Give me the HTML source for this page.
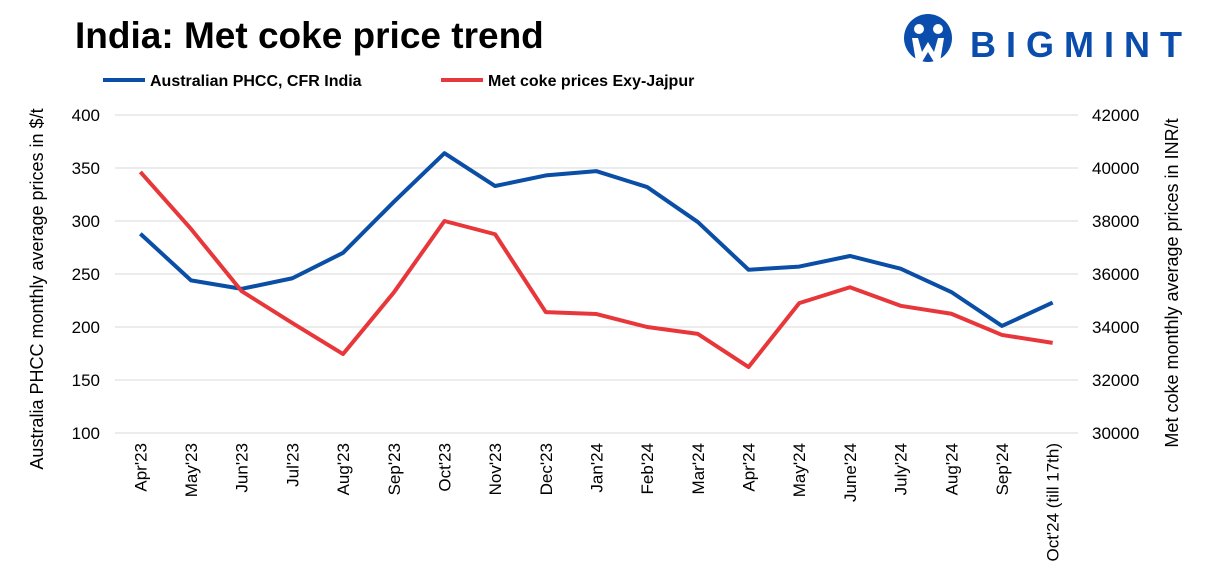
<!DOCTYPE html>
<html><head><meta charset="utf-8"><style>
body{margin:0;background:#fff;width:1208px;height:577px;overflow:hidden;font-family:"Liberation Sans",sans-serif}
</style></head><body>
<svg id="c" width="1208" height="577" xmlns="http://www.w3.org/2000/svg">
<text x="75" y="48" font-size="37" font-weight="bold" fill="#000">India: Met coke price trend</text>
<g>
<circle cx="928" cy="38" r="24" fill="#0a4dad"/>
<circle cx="919" cy="29" r="5" fill="#fff"/><circle cx="938" cy="29" r="5" fill="#fff"/>
<path d="M912 38 L918 38 L922 52 L928 42 L934 52 L938 38 L944 38 L940 62 L934 62 L928 52 L922 62 L916 62 Z" fill="#fff"/>
<text x="970" y="57" font-size="36" font-weight="bold" fill="#0a4dad" letter-spacing="10">BIGMINT</text>
</g>
<g>
<line x1="103" y1="80" x2="145" y2="80" stroke="#0a4ea5" stroke-width="4"/>
<text x="150" y="86" font-size="16" font-weight="bold">Australian PHCC, CFR India</text>
<line x1="441" y1="80" x2="483" y2="80" stroke="#e8373a" stroke-width="4"/>
<text x="488" y="86" font-size="16" font-weight="bold">Met coke prices Exy-Jajpur</text>
</g>
<text transform="translate(43,289) rotate(-90)" text-anchor="middle" font-size="18">Australia PHCC monthly average prices in $/t</text>
<text transform="translate(1178,283) rotate(-90)" text-anchor="middle" font-size="18">Met coke monthly average prices in INR/t</text>
<g id="grid"></g><g id="marks"></g>
</svg>
<script>
const categories=["Apr'23","May'23","Jun'23","Jul'23","Aug'23","Sep'23","Oct'23","Nov'23","Dec'23","Jan'24","Feb'24","Mar'24","Apr'24","May'24","June'24","July'24","Aug'24","Sep'24","Oct'24 (till 17th)"];
const phcc=[288,244,236,246,270,318,364,333,343,347,332,299,254,257,267,255,233,201,223];
const metcoke=[39850,37700,35350,34150,32980,35300,38000,37500,34560,34490,34000,33740,32490,34900,35500,34800,34500,33700,33400];
const leftTicks=[100,150,200,250,300,350,400];
const rightTicks=[30000,32000,34000,36000,38000,40000,42000];
const NS="http://www.w3.org/2000/svg";
const plotTop=115,plotBot=433,x0=115,x1=1078;
const yL=v=>plotBot-(v-100)/300*(plotBot-plotTop);
const yR=v=>plotBot-(v-30000)/12000*(plotBot-plotTop);
const step=(x1-x0)/categories.length;
const xs=i=>x0+step*(i+0.5);
const g=document.getElementById('grid'),m=document.getElementById('marks');
function el(t,a,p){const e=document.createElementNS(NS,t);for(const k in a)e.setAttribute(k,a[k]);p.appendChild(e);return e;}
leftTicks.forEach(v=>{
 const l=el('line',{x1:x0,x2:x1,y1:yL(v),y2:yL(v),stroke:'#d9d9d9','stroke-width':1},g);
 
 
 const t=el('text',{x:100,y:yL(v)+6,'text-anchor':'end','font-size':17},g);t.textContent=v;
 
 
});
rightTicks.forEach(v=>{
 const t=el('text',{x:1092,y:yR(v)+6,'font-size':17},g);t.textContent=v;
 
 
});
categories.forEach((c,i)=>{
 const t=el('text',{transform:`translate(${xs(i)+6},443) rotate(-90)`,'text-anchor':'end','font-size':17},g);t.textContent=c;
 
 
});
const p1=el('polyline',{points:phcc.map((v,i)=>xs(i)+','+yL(v)).join(' '),fill:'none',stroke:'#0a4ea5','stroke-width':4,'stroke-linejoin':'round'},m);


const p2=el('polyline',{points:metcoke.map((v,i)=>xs(i)+','+yR(v)).join(' '),fill:'none',stroke:'#e8373a','stroke-width':4,'stroke-linejoin':'round'},m);


</script>
</body></html>
